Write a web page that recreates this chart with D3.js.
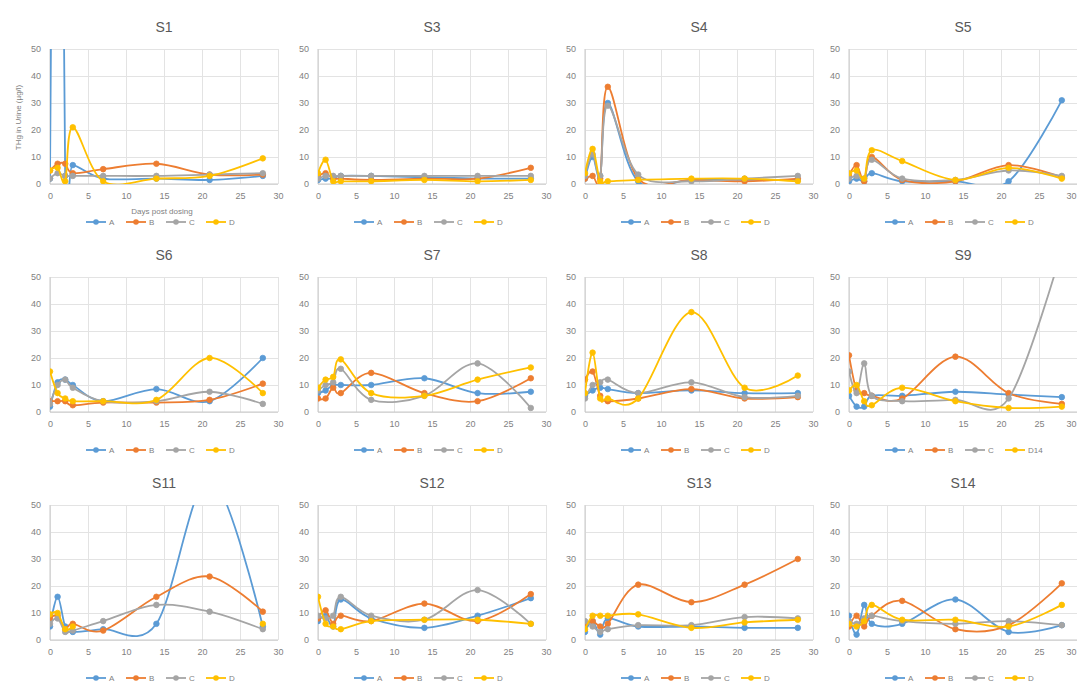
<!DOCTYPE html>
<html><head><meta charset="utf-8">
<script src="https://cdn.jsdelivr.net/npm/d3@7"></script>
<style>
body{margin:0;background:#fff;}
svg{display:block;font-family:"Liberation Sans","DejaVu Sans",sans-serif;}
</style></head>
<body>
<svg id="chart" width="1077" height="682"></svg>
<script>
// ---- data ----
const days = [0, 1, 2, 3, 7, 14, 21, 28];
const seriesNames = ["A", "B", "C", "D"];
const legendS9 = ["A", "B", "C", "D14"];
const panelTitles = ["S1", "S3", "S4", "S5", "S6", "S7", "S8", "S9", "S11", "S12", "S13", "S14"];
const xTicks = [0, 5, 10, 15, 20, 25, 30];
const yTicks = [0, 10, 20, 30, 40, 50];
const colors = ["#5B9BD5", "#ED7D31", "#A5A5A5", "#FFC000"];

// each panel: [A, B, C, D] values at days
const S1  = [[2, 300, 3, 7, 2, 2, 1.5, 3], [5, 7.5, 7.5, 4, 5.5, 7.5, 3.5, 3.5], [2, 4, 3, 3, 3, 3, 3.5, 4], [5, 6, 1, 21, 1, 2, 3, 9.5]];
const S3  = [[1.5, 2, 2, 3, 3, 2.5, 2, 2], [3, 4, 2, 2, 1.5, 2, 2, 6], [2, 3, 3, 3, 3, 3, 3, 3], [4, 9, 1, 1, 1, 1.5, 1, 1.5]];
const S4  = [[2, 10, 3, 30, 1, 1.5, 1.5, 1.5], [2, 3, 2, 36, 2, 1.5, 1, 2], [3, 11, 3, 29, 3.5, 1, 2, 3], [4, 13, 1, 1, 1.5, 2, 2, 1]];
const S5  = [[1, 2, 1, 4, 1, 1, 1, 31], [3, 7, 1, 10, 1.5, 1, 7, 2.5], [2, 3, 2, 9, 2, 1.5, 5, 3], [4, 5, 2, 12.5, 8.5, 1.5, 6, 2]];
const S6  = [[2, 11, 12, 10, 4, 8.5, 4, 20], [4, 4, 4, 2.5, 3.5, 3.5, 4.5, 10.5], [3, 10, 12, 9, 4, 4, 7.5, 3], [15, 7, 5, 4, 4, 4.5, 20, 7]];
const S7  = [[7, 8, 10, 10, 10, 12.5, 7, 7.5], [5, 5, 9, 7, 14.5, 7, 4, 12.5], [8, 10, 11, 16, 4.5, 6, 18, 1.5], [9, 12, 13, 19.5, 7, 6, 12, 16.5]];
const S8  = [[6, 8, 9, 8.5, 7, 8, 7, 7], [12, 15, 6, 4, 5, 8.5, 5, 5.5], [5, 10, 11, 12, 7, 11, 5.5, 6], [7, 22, 5, 5, 5, 37, 9, 13.5]];
const S9  = [[6, 2, 2, 6, 6, 7.5, 6.5, 5.5], [21, 8, 7, 6, 5, 20.5, 7, 3], [15, 7, 18, 6, 4, 4.5, 5, 60], [8, 10, 4, 2.5, 9, 4, 1.5, 2]];
const S11 = [[5, 16, 5, 3, 4, 6, 60, 5], [8, 9, 4, 6, 3.5, 16, 23.5, 10.5], [6, 8, 3, 3.5, 7, 13, 10.5, 4], [9.5, 10, 4, 5, null, null, null, 6]];
const S12 = [[7, 9, 5, 15, 8, 4.5, 9, 15.5], [8, 11, 6, 9, 7, 13.5, 7, 17], [9, 8, 9, 16, 9, 7.5, 18.5, 6], [16, 6, 5, 4, 7, 7.5, 7.5, 6]];
const S13 = [[3, 7, 2, 8, 5, 5, 4.5, 4.5], [6, 7, 5, 6, 20.5, 14, 20.5, 30], [7, 5, 3, 4, 5.5, 5.5, 8.5, 8], [4, 9, 9, 9, 9.5, 4.5, 6.5, 7.5]];
const S14 = [[9, 2, 13, 6, 6, 15, 3, 5.5], [5, 9, 5, 9, 14.5, 4, 5.5, 21], [7, 6, 8, 9, 7, 6, 7, 5.5], [6, 5, 7, 13, 7.5, 7.5, 5, 13]];
const panelData = [S1, S3, S4, S5, S6, S7, S8, S9, S11, S12, S13, S14];

// ---- layout ----
const colX = [50, 318, 585, 849];
const rowTop = [49, 277, 505];
const plotW = 228, plotH = 135;

const svg = d3.select("#chart");
const defs = svg.append("defs");

panelData.forEach((pd, i) => {
  const col = i % 4, row = Math.floor(i / 4);
  const x0 = colX[col], top = rowTop[row];
  const x = d3.scaleLinear().domain([0, 30]).range([x0, x0 + plotW]);
  const y = d3.scaleLinear().domain([0, 50]).range([top + plotH, top]);
  const g = svg.append("g");

  // gridlines
  g.append("g").attr("transform", `translate(0,${top + plotH})`)
    .call(d3.axisBottom(x).tickValues(xTicks).tickSize(-plotH).tickFormat(""))
    .call(a => a.select(".domain").remove())
    .call(a => a.selectAll("line").attr("stroke", "#e3e3e3"));
  g.append("g").attr("transform", `translate(${x0},0)`)
    .call(d3.axisLeft(y).tickValues(yTicks).tickSize(-plotW).tickFormat(""))
    .call(a => a.select(".domain").remove())
    .call(a => a.selectAll("line").attr("stroke", "#e3e3e3"));

  // axis lines
  g.append("line").attr("x1", x0).attr("x2", x0).attr("y1", top).attr("y2", top + plotH).attr("stroke", "#c9c9c9");
  g.append("line").attr("x1", x0).attr("x2", x0 + plotW).attr("y1", top + plotH).attr("y2", top + plotH).attr("stroke", "#c9c9c9");

  // tick labels
  g.append("g").attr("transform", `translate(0,${top + plotH})`)
    .call(d3.axisBottom(x).tickValues(xTicks).tickSize(0).tickPadding(9))
    .call(a => a.select(".domain").remove())
    .call(a => a.selectAll("text").attr("fill", "#7f7f7f").attr("font-size", 9).attr("font-family", "Liberation Sans, sans-serif"))
    .call(a => { if (col === 3) a.selectAll(".tick text").filter(d => d === 30).attr("text-anchor", "end").attr("dx", "-1"); });
  g.append("g").attr("transform", `translate(${x0},0)`)
    .call(d3.axisLeft(y).tickValues(yTicks).tickSize(0).tickPadding(9))
    .call(a => a.select(".domain").remove())
    .call(a => a.selectAll("text").attr("fill", "#7f7f7f").attr("font-size", 9).attr("font-family", "Liberation Sans, sans-serif"));

  // title
  g.append("text").attr("x", x0 + plotW / 2).attr("y", top - 22).attr("dy", "0.35em")
    .attr("text-anchor", "middle").attr("font-size", 14).attr("fill", "#595959").text(panelTitles[i]);

  // clip
  const cid = "clip" + i;
  defs.append("clipPath").attr("id", cid).append("rect")
    .attr("x", x0).attr("y", top).attr("width", plotW).attr("height", plotH);

  const line = d3.line().defined(d => d[1] != null)
    .x(d => x(d[0])).y(d => y(d[1])).curve(d3.curveCatmullRom.alpha(0));

  const plot = g.append("g").attr("clip-path", `url(#${cid})`);
  pd.forEach((vals, si) => {
    const pts = days.map((d, k) => [d, vals[k]]);
    plot.append("path").attr("d", line(pts)).attr("fill", "none")
      .attr("stroke", colors[si]).attr("stroke-width", 1.8);
    plot.selectAll(null).data(pts.filter(p => p[1] != null)).enter().append("circle")
      .attr("cx", p => x(p[0])).attr("cy", p => y(p[1])).attr("r", 2.8)
      .attr("fill", colors[si]).attr("stroke", colors[si]).attr("stroke-width", 0.8);
  });

  // legend
  const labels = panelTitles[i] === "S9" ? legendS9 : seriesNames;
  const itemW = 40;
  const lx0 = x0 + plotW / 2 - (itemW * 4) / 2 + 2;
  const ly = top + plotH + 38;
  labels.forEach((lab, si) => {
    const lx = lx0 + si * itemW;
    g.append("line").attr("x1", lx).attr("x2", lx + 20).attr("y1", ly).attr("y2", ly)
      .attr("stroke", colors[si]).attr("stroke-width", 1.8);
    g.append("circle").attr("cx", lx + 10).attr("cy", ly).attr("r", 2.8).attr("fill", colors[si]);
    g.append("text").attr("x", lx + 23).attr("y", ly).attr("dy", "0.35em")
      .attr("font-size", 8).attr("fill", "#7f7f7f").text(lab);
  });

  if (i === 0) {
    g.append("text").attr("x", x0 + plotW / 2 - 2).attr("y", top + plotH + 27).attr("dy", "0.35em")
      .attr("text-anchor", "middle").attr("font-size", 8).attr("fill", "#7f7f7f").text("Days post dosing");
    g.append("text").attr("transform", `translate(18,${top + plotH / 2 + 1}) rotate(-90)`)
      .attr("text-anchor", "middle").attr("dy", "0.35em")
      .attr("font-size", 8).attr("fill", "#7f7f7f").text("THg in Urine (µg/l)");
  }
});
</script>
</body></html>
